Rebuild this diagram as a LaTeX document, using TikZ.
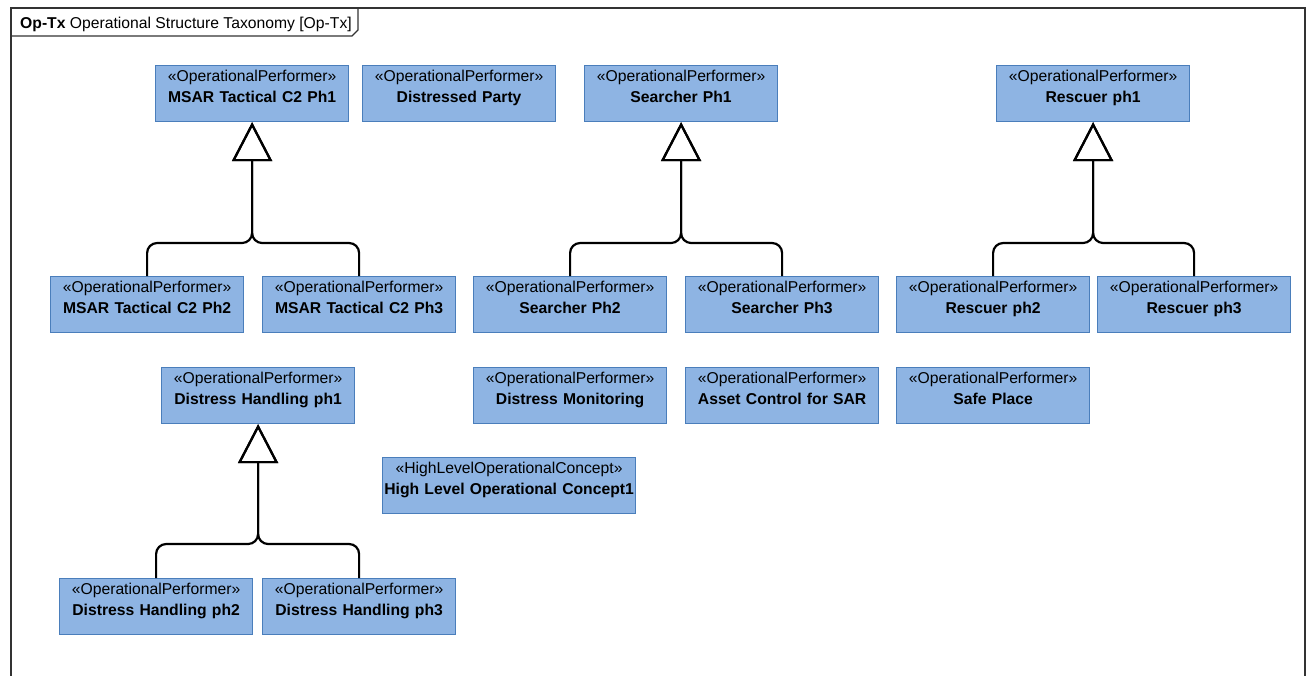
\documentclass[tikz,border=0pt]{standalone}
\usepackage{fontspec}
\setmainfont{Liberation Sans}
\usetikzlibrary{arrows.meta}
\definecolor{boxfill}{RGB}{142,180,227}
\definecolor{boxline}{RGB}{74,126,187}

\begin{document}
\begin{tikzpicture}[x=1pt, y=-1pt,
    main/.style = {draw=boxline, fill=boxfill, line width=1.2pt, anchor=north west,
        text width=193pt, inner xsep=0pt, inner ysep=4pt, align=center,
        text height=12pt, text depth=36pt, font=\fontsize{15.7}{21}\selectfont},
    gen/.style = {line width=2.2pt, rounded corners=10pt,
        -{Triangle[open, length=39pt, width=40pt]}},
    frame/.style = {line width=1.4pt, draw=black!80}]
    \useasboundingbox (0,0) rectangle (1311,675);

    % diagram frame and its tab
    \draw[frame] (11,690) -- (11,8) -- (1305,8) -- (1305,690);
    \draw[frame] (11,36) -- (352,36) -- (358,30) -- (358,8);
    \node[anchor=base west, inner sep=0pt, font=\fontsize{15.7}{18}\selectfont] (title) at (20,28)
        {\textbf{Op-Tx} Operational Structure Taxonomy [Op-Tx]};

    % top row
    \node[main] (m1) at (155,65) {«OperationalPerformer»\\\textbf{MSAR Tactical C2 Ph1}};
    \node[main] (dp) at (362,65) {«OperationalPerformer»\\\textbf{Distressed Party}};
    \node[main] (s1) at (584,65) {«OperationalPerformer»\\\textbf{Searcher Ph1}};
    \node[main] (r1) at (996,65) {«OperationalPerformer»\\\textbf{Rescuer ph1}};

    % second row
    \node[main] (m2) at (50,276) {«OperationalPerformer»\\\textbf{MSAR Tactical C2 Ph2}};
    \node[main] (m3) at (262,276) {«OperationalPerformer»\\\textbf{MSAR Tactical C2 Ph3}};
    \node[main] (s2) at (473,276) {«OperationalPerformer»\\\textbf{Searcher Ph2}};
    \node[main] (s3) at (685,276) {«OperationalPerformer»\\\textbf{Searcher Ph3}};
    \node[main] (r2) at (896,276) {«OperationalPerformer»\\\textbf{Rescuer ph2}};
    \node[main] (r3) at (1097,276) {«OperationalPerformer»\\\textbf{Rescuer ph3}};

    % third row
    \node[main] (d1) at (161,367) {«OperationalPerformer»\\\textbf{Distress Handling ph1}};
    \node[main] (dm) at (473,367) {«OperationalPerformer»\\\textbf{Distress Monitoring}};
    \node[main] (ac) at (685,367) {«OperationalPerformer»\\\textbf{Asset Control for SAR}};
    \node[main] (sp) at (896,367) {«OperationalPerformer»\\\textbf{Safe Place}};

    \node[main, text width=253pt] (hl) at (382,457)
        {«HighLevelOperationalConcept»\\\textbf{High Level Operational Concept1}};

    % bottom row
    \node[main] (d2) at (59,578) {«OperationalPerformer»\\\textbf{Distress Handling ph2}};
    \node[main] (d3) at (262,578) {«OperationalPerformer»\\\textbf{Distress Handling ph3}};

    % generalizations
    \draw[gen] (m2.north) -- ++(0,-33) -| (m1.south);
    \draw[gen] (m3.north) -- ++(0,-33) -| (m1.south);

    \draw[gen] (s2.north) -- ++(0,-33) -| (s1.south);
    \draw[gen] (s3.north) -- ++(0,-33) -| (s1.south);

    \draw[gen] (r2.north) -- ++(0,-33) -| (r1.south);
    \draw[gen] (r3.north) -- ++(0,-33) -| (r1.south);

    \draw[gen] (d2.north) -- ++(0,-34) -| (d1.south);
    \draw[gen] (d3.north) -- ++(0,-34) -| (d1.south);
\end{tikzpicture}
\end{document}
